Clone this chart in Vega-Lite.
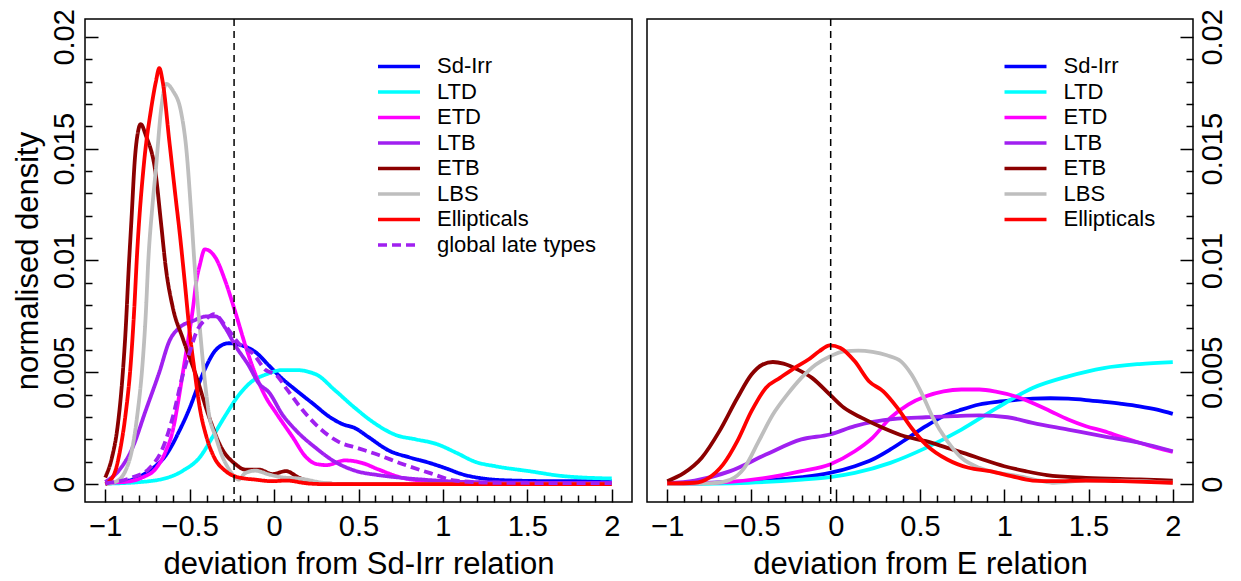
{
  "$schema": "https://vega.github.io/schema/vega-lite/v6.json",
  "padding": {"left": 11, "top": 7, "right": 0, "bottom": 0},
  "spacing": 13,
  "background": "white",
  "config": {
    "font": "Liberation Sans",
    "view": {"stroke": "black", "strokeWidth": 1.5},
    "axis": {
      "domain": false,
      "grid": false,
      "tickColor": "black",
      "tickWidth": 1.5,
      "labelFont": "Liberation Sans",
      "labelFontSize": 29,
      "labelColor": "black",
      "labelOverlap": false,
      "labelFlush": false,
      "labelBound": false,
      "titleFont": "Liberation Sans",
      "titleFontSize": 31,
      "titleFontWeight": "normal",
      "titleColor": "black"
    },
    "legend": {
      "orient": "none",
      "title": null,
      "padding": 0,
      "symbolType": "M-2.5,0H2.5",
      "symbolSize": 282,
      "symbolStrokeWidth": 3.5,
      "labelFont": "Liberation Sans",
      "labelFontSize": 22,
      "labelColor": "black",
      "labelOffset": 27,
      "labelLimit": 400,
      "rowPadding": 3.5
    }
  },
  "datasets": {
    "left": [
      {"series": "Sd-Irr", "dev": -1, "density": 0.00003},
      {"series": "Sd-Irr", "dev": -0.84, "density": 0.0002},
      {"series": "Sd-Irr", "dev": -0.74, "density": 0.0006},
      {"series": "Sd-Irr", "dev": -0.64, "density": 0.0013},
      {"series": "Sd-Irr", "dev": -0.56, "density": 0.0024},
      {"series": "Sd-Irr", "dev": -0.5, "density": 0.0034},
      {"series": "Sd-Irr", "dev": -0.44, "density": 0.0046},
      {"series": "Sd-Irr", "dev": -0.4, "density": 0.0053},
      {"series": "Sd-Irr", "dev": -0.345, "density": 0.006},
      {"series": "Sd-Irr", "dev": -0.27, "density": 0.0063},
      {"series": "Sd-Irr", "dev": -0.19, "density": 0.0062},
      {"series": "Sd-Irr", "dev": -0.11, "density": 0.0059},
      {"series": "Sd-Irr", "dev": -0.03, "density": 0.0053},
      {"series": "Sd-Irr", "dev": 0.05, "density": 0.0047},
      {"series": "Sd-Irr", "dev": 0.13, "density": 0.0042},
      {"series": "Sd-Irr", "dev": 0.23, "density": 0.0036},
      {"series": "Sd-Irr", "dev": 0.33, "density": 0.003},
      {"series": "Sd-Irr", "dev": 0.4, "density": 0.0027},
      {"series": "Sd-Irr", "dev": 0.48, "density": 0.0025},
      {"series": "Sd-Irr", "dev": 0.56, "density": 0.0021},
      {"series": "Sd-Irr", "dev": 0.68, "density": 0.0015},
      {"series": "Sd-Irr", "dev": 0.8, "density": 0.0012},
      {"series": "Sd-Irr", "dev": 0.92, "density": 0.00095},
      {"series": "Sd-Irr", "dev": 1.02, "density": 0.0007},
      {"series": "Sd-Irr", "dev": 1.11, "density": 0.00045},
      {"series": "Sd-Irr", "dev": 1.23, "density": 0.00026},
      {"series": "Sd-Irr", "dev": 1.41, "density": 0.00016},
      {"series": "Sd-Irr", "dev": 1.7, "density": 0.00013},
      {"series": "Sd-Irr", "dev": 2, "density": 0.00013},

      {"series": "LTD", "dev": -1, "density": 0.00002},
      {"series": "LTD", "dev": -0.74, "density": 0.00013},
      {"series": "LTD", "dev": -0.54, "density": 0.0006},
      {"series": "LTD", "dev": -0.44, "density": 0.0012},
      {"series": "LTD", "dev": -0.365, "density": 0.0021},
      {"series": "LTD", "dev": -0.286, "density": 0.0031},
      {"series": "LTD", "dev": -0.207, "density": 0.004},
      {"series": "LTD", "dev": -0.13, "density": 0.0046},
      {"series": "LTD", "dev": -0.05, "density": 0.0049},
      {"series": "LTD", "dev": 0.05, "density": 0.0051},
      {"series": "LTD", "dev": 0.13, "density": 0.0051},
      {"series": "LTD", "dev": 0.25, "density": 0.0049},
      {"series": "LTD", "dev": 0.36, "density": 0.0042},
      {"series": "LTD", "dev": 0.48, "density": 0.0034},
      {"series": "LTD", "dev": 0.6, "density": 0.0027},
      {"series": "LTD", "dev": 0.72, "density": 0.0022},
      {"series": "LTD", "dev": 0.84, "density": 0.002},
      {"series": "LTD", "dev": 0.96, "density": 0.0018},
      {"series": "LTD", "dev": 1.08, "density": 0.0014},
      {"series": "LTD", "dev": 1.19, "density": 0.001},
      {"series": "LTD", "dev": 1.31, "density": 0.0008},
      {"series": "LTD", "dev": 1.51, "density": 0.00058},
      {"series": "LTD", "dev": 1.71, "density": 0.00036},
      {"series": "LTD", "dev": 2, "density": 0.00025},

      {"series": "ETD", "dev": -1, "density": 0.00006},
      {"series": "ETD", "dev": -0.88, "density": 0.0001},
      {"series": "ETD", "dev": -0.78, "density": 0.0003},
      {"series": "ETD", "dev": -0.7, "density": 0.0007},
      {"series": "ETD", "dev": -0.64, "density": 0.0015},
      {"series": "ETD", "dev": -0.6, "density": 0.0024},
      {"series": "ETD", "dev": -0.57, "density": 0.0036},
      {"series": "ETD", "dev": -0.54, "density": 0.005},
      {"series": "ETD", "dev": -0.51, "density": 0.0064},
      {"series": "ETD", "dev": -0.48, "density": 0.0079},
      {"series": "ETD", "dev": -0.46, "density": 0.0091},
      {"series": "ETD", "dev": -0.44, "density": 0.0098},
      {"series": "ETD", "dev": -0.41, "density": 0.0105},
      {"series": "ETD", "dev": -0.345, "density": 0.0101},
      {"series": "ETD", "dev": -0.29, "density": 0.0091},
      {"series": "ETD", "dev": -0.23, "density": 0.0077},
      {"series": "ETD", "dev": -0.17, "density": 0.0062},
      {"series": "ETD", "dev": -0.11, "density": 0.0049},
      {"series": "ETD", "dev": -0.05, "density": 0.0039},
      {"series": "ETD", "dev": 0.01, "density": 0.0032},
      {"series": "ETD", "dev": 0.11, "density": 0.0021},
      {"series": "ETD", "dev": 0.19, "density": 0.0012},
      {"series": "ETD", "dev": 0.25, "density": 0.0009},
      {"series": "ETD", "dev": 0.31, "density": 0.00085},
      {"series": "ETD", "dev": 0.42, "density": 0.00106},
      {"series": "ETD", "dev": 0.52, "density": 0.00095},
      {"series": "ETD", "dev": 0.62, "density": 0.00065},
      {"series": "ETD", "dev": 0.76, "density": 0.00028},
      {"series": "ETD", "dev": 0.92, "density": 0.00013},
      {"series": "ETD", "dev": 1.11, "density": 0.00006},
      {"series": "ETD", "dev": 1.5, "density": 0.00003},
      {"series": "ETD", "dev": 2, "density": 0.00003},

      {"series": "LTB", "dev": -1, "density": 0.0001},
      {"series": "LTB", "dev": -0.92, "density": 0.0006},
      {"series": "LTB", "dev": -0.84, "density": 0.0016},
      {"series": "LTB", "dev": -0.76, "density": 0.0033},
      {"series": "LTB", "dev": -0.68, "density": 0.005},
      {"series": "LTB", "dev": -0.62, "density": 0.0064},
      {"series": "LTB", "dev": -0.56, "density": 0.007},
      {"series": "LTB", "dev": -0.48, "density": 0.0073},
      {"series": "LTB", "dev": -0.4, "density": 0.0075},
      {"series": "LTB", "dev": -0.345, "density": 0.0075},
      {"series": "LTB", "dev": -0.29, "density": 0.007},
      {"series": "LTB", "dev": -0.23, "density": 0.0062},
      {"series": "LTB", "dev": -0.15, "density": 0.0053},
      {"series": "LTB", "dev": -0.09, "density": 0.0045},
      {"series": "LTB", "dev": -0.03, "density": 0.0041},
      {"series": "LTB", "dev": 0.05, "density": 0.0031},
      {"series": "LTB", "dev": 0.13, "density": 0.0024},
      {"series": "LTB", "dev": 0.25, "density": 0.0016},
      {"series": "LTB", "dev": 0.36, "density": 0.001},
      {"series": "LTB", "dev": 0.48, "density": 0.0006},
      {"series": "LTB", "dev": 0.62, "density": 0.0004},
      {"series": "LTB", "dev": 0.76, "density": 0.00028},
      {"series": "LTB", "dev": 0.92, "density": 0.00018},
      {"series": "LTB", "dev": 1.11, "density": 0.0001},
      {"series": "LTB", "dev": 1.5, "density": 0.00006},
      {"series": "LTB", "dev": 2, "density": 0.00004},

      {"series": "ETB", "dev": -1, "density": 0.0003},
      {"series": "ETB", "dev": -0.96, "density": 0.0012},
      {"series": "ETB", "dev": -0.93, "density": 0.0024},
      {"series": "ETB", "dev": -0.9, "density": 0.0046},
      {"series": "ETB", "dev": -0.88, "density": 0.0068},
      {"series": "ETB", "dev": -0.86, "density": 0.0098},
      {"series": "ETB", "dev": -0.845, "density": 0.0118},
      {"series": "ETB", "dev": -0.825, "density": 0.0145},
      {"series": "ETB", "dev": -0.805, "density": 0.0158},
      {"series": "ETB", "dev": -0.79, "density": 0.0161},
      {"series": "ETB", "dev": -0.76, "density": 0.0156},
      {"series": "ETB", "dev": -0.7, "density": 0.0138},
      {"series": "ETB", "dev": -0.67, "density": 0.0117},
      {"series": "ETB", "dev": -0.64, "density": 0.0096},
      {"series": "ETB", "dev": -0.6, "density": 0.0079},
      {"series": "ETB", "dev": -0.54, "density": 0.0065},
      {"series": "ETB", "dev": -0.46, "density": 0.0048},
      {"series": "ETB", "dev": -0.385, "density": 0.003},
      {"series": "ETB", "dev": -0.31, "density": 0.0016},
      {"series": "ETB", "dev": -0.23, "density": 0.0009},
      {"series": "ETB", "dev": -0.17, "density": 0.00065},
      {"series": "ETB", "dev": -0.09, "density": 0.00065},
      {"series": "ETB", "dev": -0.01, "density": 0.00045},
      {"series": "ETB", "dev": 0.07, "density": 0.00058},
      {"series": "ETB", "dev": 0.15, "density": 0.00028},
      {"series": "ETB", "dev": 0.22, "density": 0.0001},
      {"series": "ETB", "dev": 0.3, "density": 0.00002},
      {"series": "ETB", "dev": 0.6, "density": 0},
      {"series": "ETB", "dev": 1.2, "density": 0},
      {"series": "ETB", "dev": 2, "density": 0},

      {"series": "LBS", "dev": -1, "density": 0},
      {"series": "LBS", "dev": -0.94, "density": 0.0001},
      {"series": "LBS", "dev": -0.88, "density": 0.0006},
      {"series": "LBS", "dev": -0.84, "density": 0.0016},
      {"series": "LBS", "dev": -0.81, "density": 0.0031},
      {"series": "LBS", "dev": -0.78, "density": 0.0053},
      {"series": "LBS", "dev": -0.76, "density": 0.0076},
      {"series": "LBS", "dev": -0.745, "density": 0.01},
      {"series": "LBS", "dev": -0.72, "density": 0.0125},
      {"series": "LBS", "dev": -0.7, "density": 0.0141},
      {"series": "LBS", "dev": -0.67, "density": 0.0167},
      {"series": "LBS", "dev": -0.64, "density": 0.0179},
      {"series": "LBS", "dev": -0.6, "density": 0.0176},
      {"series": "LBS", "dev": -0.55, "density": 0.0166},
      {"series": "LBS", "dev": -0.52, "density": 0.015},
      {"series": "LBS", "dev": -0.49, "density": 0.012},
      {"series": "LBS", "dev": -0.47, "density": 0.0097},
      {"series": "LBS", "dev": -0.44, "density": 0.007},
      {"series": "LBS", "dev": -0.41, "density": 0.0046},
      {"series": "LBS", "dev": -0.385, "density": 0.0031},
      {"series": "LBS", "dev": -0.345, "density": 0.0021},
      {"series": "LBS", "dev": -0.31, "density": 0.0013},
      {"series": "LBS", "dev": -0.27, "density": 0.0007},
      {"series": "LBS", "dev": -0.23, "density": 0.0003},
      {"series": "LBS", "dev": -0.21, "density": 0.0002},
      {"series": "LBS", "dev": -0.17, "density": 0.0005},
      {"series": "LBS", "dev": -0.11, "density": 0.0006},
      {"series": "LBS", "dev": -0.03, "density": 0.00043},
      {"series": "LBS", "dev": 0.05, "density": 0.0003},
      {"series": "LBS", "dev": 0.15, "density": 0.00025},
      {"series": "LBS", "dev": 0.29, "density": 0.00006},
      {"series": "LBS", "dev": 0.4, "density": 0},
      {"series": "LBS", "dev": 1.2, "density": 0},
      {"series": "LBS", "dev": 2, "density": 0},

      {"series": "Ellipticals", "dev": -1, "density": 0},
      {"series": "Ellipticals", "dev": -0.975, "density": 0.00013},
      {"series": "Ellipticals", "dev": -0.94, "density": 0.0006},
      {"series": "Ellipticals", "dev": -0.91, "density": 0.0016},
      {"series": "Ellipticals", "dev": -0.88, "density": 0.0031},
      {"series": "Ellipticals", "dev": -0.85, "density": 0.0053},
      {"series": "Ellipticals", "dev": -0.83, "density": 0.0076},
      {"series": "Ellipticals", "dev": -0.81, "density": 0.0105},
      {"series": "Ellipticals", "dev": -0.77, "density": 0.0144},
      {"series": "Ellipticals", "dev": -0.73, "density": 0.0167},
      {"series": "Ellipticals", "dev": -0.7, "density": 0.018},
      {"series": "Ellipticals", "dev": -0.68, "density": 0.0186},
      {"series": "Ellipticals", "dev": -0.66, "density": 0.018},
      {"series": "Ellipticals", "dev": -0.62, "density": 0.0153},
      {"series": "Ellipticals", "dev": -0.58, "density": 0.0126},
      {"series": "Ellipticals", "dev": -0.56, "density": 0.0113},
      {"series": "Ellipticals", "dev": -0.53, "density": 0.0091},
      {"series": "Ellipticals", "dev": -0.5, "density": 0.0068},
      {"series": "Ellipticals", "dev": -0.47, "density": 0.005},
      {"series": "Ellipticals", "dev": -0.44, "density": 0.0034},
      {"series": "Ellipticals", "dev": -0.4, "density": 0.0021},
      {"series": "Ellipticals", "dev": -0.355, "density": 0.0012},
      {"series": "Ellipticals", "dev": -0.29, "density": 0.0006},
      {"series": "Ellipticals", "dev": -0.21, "density": 0.0003},
      {"series": "Ellipticals", "dev": -0.11, "density": 0.0002},
      {"series": "Ellipticals", "dev": -0.01, "density": 0.00013},
      {"series": "Ellipticals", "dev": 0.07, "density": 0.00016},
      {"series": "Ellipticals", "dev": 0.2, "density": 0.00003},
      {"series": "Ellipticals", "dev": 0.3, "density": 0},
      {"series": "Ellipticals", "dev": 1.2, "density": 0},
      {"series": "Ellipticals", "dev": 2, "density": 0},

      {"series": "global late types", "dev": -1, "density": 0.00003},
      {"series": "global late types", "dev": -0.84, "density": 0.0003},
      {"series": "global late types", "dev": -0.74, "density": 0.0007},
      {"series": "global late types", "dev": -0.66, "density": 0.0016},
      {"series": "global late types", "dev": -0.6, "density": 0.003},
      {"series": "global late types", "dev": -0.54, "density": 0.0049},
      {"series": "global late types", "dev": -0.5, "density": 0.0059},
      {"series": "global late types", "dev": -0.46, "density": 0.0068},
      {"series": "global late types", "dev": -0.4, "density": 0.0074},
      {"series": "global late types", "dev": -0.355, "density": 0.0076},
      {"series": "global late types", "dev": -0.29, "density": 0.0071},
      {"series": "global late types", "dev": -0.21, "density": 0.0063},
      {"series": "global late types", "dev": -0.12, "density": 0.0058},
      {"series": "global late types", "dev": -0.05, "density": 0.0051},
      {"series": "global late types", "dev": 0.01, "density": 0.0049},
      {"series": "global late types", "dev": 0.08, "density": 0.0042},
      {"series": "global late types", "dev": 0.17, "density": 0.0033},
      {"series": "global late types", "dev": 0.27, "density": 0.0025},
      {"series": "global late types", "dev": 0.38, "density": 0.0019},
      {"series": "global late types", "dev": 0.5, "density": 0.0016},
      {"series": "global late types", "dev": 0.62, "density": 0.0013},
      {"series": "global late types", "dev": 0.76, "density": 0.0009},
      {"series": "global late types", "dev": 0.92, "density": 0.0005},
      {"series": "global late types", "dev": 1.08, "density": 0.00015},
      {"series": "global late types", "dev": 1.31, "density": 0.00006},
      {"series": "global late types", "dev": 2, "density": 0.00004}
    ],
    "right": [
      {"series": "Sd-Irr", "dev": -1, "density": 0.00001},
      {"series": "Sd-Irr", "dev": -0.52, "density": 0.00013},
      {"series": "Sd-Irr", "dev": -0.2, "density": 0.00031},
      {"series": "Sd-Irr", "dev": -0.035, "density": 0.0005},
      {"series": "Sd-Irr", "dev": 0.113, "density": 0.0008},
      {"series": "Sd-Irr", "dev": 0.218, "density": 0.0011},
      {"series": "Sd-Irr", "dev": 0.324, "density": 0.00155},
      {"series": "Sd-Irr", "dev": 0.43, "density": 0.00207},
      {"series": "Sd-Irr", "dev": 0.535, "density": 0.00259},
      {"series": "Sd-Irr", "dev": 0.64, "density": 0.00304},
      {"series": "Sd-Irr", "dev": 0.746, "density": 0.00333},
      {"series": "Sd-Irr", "dev": 0.852, "density": 0.00356},
      {"series": "Sd-Irr", "dev": 0.957, "density": 0.00368},
      {"series": "Sd-Irr", "dev": 1.063, "density": 0.00376},
      {"series": "Sd-Irr", "dev": 1.168, "density": 0.00382},
      {"series": "Sd-Irr", "dev": 1.274, "density": 0.00384},
      {"series": "Sd-Irr", "dev": 1.379, "density": 0.00382},
      {"series": "Sd-Irr", "dev": 1.485, "density": 0.00376},
      {"series": "Sd-Irr", "dev": 1.59, "density": 0.00368},
      {"series": "Sd-Irr", "dev": 1.696, "density": 0.00359},
      {"series": "Sd-Irr", "dev": 1.802, "density": 0.00348},
      {"series": "Sd-Irr", "dev": 1.907, "density": 0.00333},
      {"series": "Sd-Irr", "dev": 2, "density": 0.00314},

      {"series": "LTD", "dev": -1, "density": 0},
      {"series": "LTD", "dev": -0.52, "density": 0.00006},
      {"series": "LTD", "dev": -0.2, "density": 0.0002},
      {"series": "LTD", "dev": -0.035, "density": 0.00031},
      {"series": "LTD", "dev": 0.113, "density": 0.0005},
      {"series": "LTD", "dev": 0.324, "density": 0.00095},
      {"series": "LTD", "dev": 0.535, "density": 0.00162},
      {"series": "LTD", "dev": 0.746, "density": 0.00244},
      {"series": "LTD", "dev": 0.957, "density": 0.00341},
      {"series": "LTD", "dev": 1.168, "density": 0.0043},
      {"series": "LTD", "dev": 1.379, "density": 0.00482},
      {"series": "LTD", "dev": 1.59, "density": 0.00519},
      {"series": "LTD", "dev": 1.802, "density": 0.00537},
      {"series": "LTD", "dev": 2, "density": 0.00546},

      {"series": "ETD", "dev": -1, "density": 0},
      {"series": "ETD", "dev": -0.626, "density": 0.0001},
      {"series": "ETD", "dev": -0.415, "density": 0.00028},
      {"series": "ETD", "dev": -0.204, "density": 0.00058},
      {"series": "ETD", "dev": -0.035, "density": 0.00088},
      {"series": "ETD", "dev": 0.113, "density": 0.00147},
      {"series": "ETD", "dev": 0.218, "density": 0.00207},
      {"series": "ETD", "dev": 0.324, "density": 0.00296},
      {"series": "ETD", "dev": 0.43, "density": 0.00356},
      {"series": "ETD", "dev": 0.535, "density": 0.00393},
      {"series": "ETD", "dev": 0.64, "density": 0.00415},
      {"series": "ETD", "dev": 0.746, "density": 0.00423},
      {"series": "ETD", "dev": 0.852, "density": 0.00423},
      {"series": "ETD", "dev": 0.957, "density": 0.00412},
      {"series": "ETD", "dev": 1.063, "density": 0.00393},
      {"series": "ETD", "dev": 1.168, "density": 0.00363},
      {"series": "ETD", "dev": 1.274, "density": 0.00326},
      {"series": "ETD", "dev": 1.379, "density": 0.00289},
      {"series": "ETD", "dev": 1.485, "density": 0.00259},
      {"series": "ETD", "dev": 1.59, "density": 0.00237},
      {"series": "ETD", "dev": 1.696, "density": 0.0021},
      {"series": "ETD", "dev": 1.802, "density": 0.00185},
      {"series": "ETD", "dev": 1.907, "density": 0.00162},
      {"series": "ETD", "dev": 2, "density": 0.00144},

      {"series": "LTB", "dev": -1, "density": 0.00004},
      {"series": "LTB", "dev": -0.837, "density": 0.00016},
      {"series": "LTB", "dev": -0.626, "density": 0.00058},
      {"series": "LTB", "dev": -0.415, "density": 0.00132},
      {"series": "LTB", "dev": -0.204, "density": 0.002},
      {"series": "LTB", "dev": -0.035, "density": 0.00222},
      {"series": "LTB", "dev": 0.113, "density": 0.00259},
      {"series": "LTB", "dev": 0.218, "density": 0.00278},
      {"series": "LTB", "dev": 0.366, "density": 0.00293},
      {"series": "LTB", "dev": 0.535, "density": 0.00299},
      {"series": "LTB", "dev": 0.704, "density": 0.00304},
      {"series": "LTB", "dev": 0.852, "density": 0.00307},
      {"series": "LTB", "dev": 1.02, "density": 0.00299},
      {"series": "LTB", "dev": 1.168, "density": 0.00274},
      {"series": "LTB", "dev": 1.379, "density": 0.00244},
      {"series": "LTB", "dev": 1.59, "density": 0.00214},
      {"series": "LTB", "dev": 1.802, "density": 0.00185},
      {"series": "LTB", "dev": 2, "density": 0.00147},

      {"series": "ETB", "dev": -1, "density": 0.00013},
      {"series": "ETB", "dev": -0.9, "density": 0.0005},
      {"series": "ETB", "dev": -0.795, "density": 0.00118},
      {"series": "ETB", "dev": -0.69, "density": 0.00237},
      {"series": "ETB", "dev": -0.584, "density": 0.00385},
      {"series": "ETB", "dev": -0.5, "density": 0.0049},
      {"series": "ETB", "dev": -0.436, "density": 0.00534},
      {"series": "ETB", "dev": -0.373, "density": 0.00546},
      {"series": "ETB", "dev": -0.31, "density": 0.00539},
      {"series": "ETB", "dev": -0.225, "density": 0.00512},
      {"series": "ETB", "dev": -0.141, "density": 0.00475},
      {"series": "ETB", "dev": -0.035, "density": 0.004},
      {"series": "ETB", "dev": 0.049, "density": 0.00341},
      {"series": "ETB", "dev": 0.155, "density": 0.00296},
      {"series": "ETB", "dev": 0.282, "density": 0.00251},
      {"series": "ETB", "dev": 0.408, "density": 0.00214},
      {"series": "ETB", "dev": 0.535, "density": 0.00192},
      {"series": "ETB", "dev": 0.662, "density": 0.00162},
      {"series": "ETB", "dev": 0.788, "density": 0.00132},
      {"series": "ETB", "dev": 0.873, "density": 0.0011},
      {"series": "ETB", "dev": 1, "density": 0.0008},
      {"series": "ETB", "dev": 1.126, "density": 0.00058},
      {"series": "ETB", "dev": 1.253, "density": 0.0004},
      {"series": "ETB", "dev": 1.485, "density": 0.00028},
      {"series": "ETB", "dev": 1.802, "density": 0.00021},
      {"series": "ETB", "dev": 2, "density": 0.00016},

      {"series": "LBS", "dev": -1, "density": 0},
      {"series": "LBS", "dev": -0.731, "density": 0.00004},
      {"series": "LBS", "dev": -0.626, "density": 0.0002},
      {"series": "LBS", "dev": -0.542, "density": 0.00073},
      {"series": "LBS", "dev": -0.457, "density": 0.00192},
      {"series": "LBS", "dev": -0.373, "density": 0.00311},
      {"series": "LBS", "dev": -0.288, "density": 0.004},
      {"series": "LBS", "dev": -0.204, "density": 0.00475},
      {"series": "LBS", "dev": -0.12, "density": 0.00534},
      {"series": "LBS", "dev": -0.035, "density": 0.00571},
      {"series": "LBS", "dev": 0.049, "density": 0.00594},
      {"series": "LBS", "dev": 0.134, "density": 0.00597},
      {"series": "LBS", "dev": 0.218, "density": 0.00591},
      {"series": "LBS", "dev": 0.303, "density": 0.00576},
      {"series": "LBS", "dev": 0.387, "density": 0.00549},
      {"series": "LBS", "dev": 0.45, "density": 0.0049},
      {"series": "LBS", "dev": 0.514, "density": 0.004},
      {"series": "LBS", "dev": 0.577, "density": 0.00296},
      {"series": "LBS", "dev": 0.662, "density": 0.00192},
      {"series": "LBS", "dev": 0.746, "density": 0.00118},
      {"series": "LBS", "dev": 0.852, "density": 0.00073},
      {"series": "LBS", "dev": 0.957, "density": 0.00051},
      {"series": "LBS", "dev": 1.084, "density": 0.00036},
      {"series": "LBS", "dev": 1.21, "density": 0.00016},
      {"series": "LBS", "dev": 1.295, "density": 0.00006},
      {"series": "LBS", "dev": 1.485, "density": 0.00016},
      {"series": "LBS", "dev": 1.696, "density": 0.00016},
      {"series": "LBS", "dev": 2, "density": 0.00006},

      {"series": "Ellipticals", "dev": -1, "density": 0.00003},
      {"series": "Ellipticals", "dev": -0.837, "density": 0.00006},
      {"series": "Ellipticals", "dev": -0.753, "density": 0.00028},
      {"series": "Ellipticals", "dev": -0.668, "density": 0.00088},
      {"series": "Ellipticals", "dev": -0.584, "density": 0.00192},
      {"series": "Ellipticals", "dev": -0.5, "density": 0.00326},
      {"series": "Ellipticals", "dev": -0.415, "density": 0.0043},
      {"series": "Ellipticals", "dev": -0.331, "density": 0.00475},
      {"series": "Ellipticals", "dev": -0.246, "density": 0.00519},
      {"series": "Ellipticals", "dev": -0.162, "density": 0.00557},
      {"series": "Ellipticals", "dev": -0.098, "density": 0.00594},
      {"series": "Ellipticals", "dev": -0.035, "density": 0.0062},
      {"series": "Ellipticals", "dev": 0.028, "density": 0.00609},
      {"series": "Ellipticals", "dev": 0.113, "density": 0.00549},
      {"series": "Ellipticals", "dev": 0.197, "density": 0.0046},
      {"series": "Ellipticals", "dev": 0.282, "density": 0.00415},
      {"series": "Ellipticals", "dev": 0.366, "density": 0.00341},
      {"series": "Ellipticals", "dev": 0.45, "density": 0.00251},
      {"series": "Ellipticals", "dev": 0.535, "density": 0.00177},
      {"series": "Ellipticals", "dev": 0.662, "density": 0.0011},
      {"series": "Ellipticals", "dev": 0.788, "density": 0.00073},
      {"series": "Ellipticals", "dev": 0.915, "density": 0.00058},
      {"series": "Ellipticals", "dev": 1.042, "density": 0.00036},
      {"series": "Ellipticals", "dev": 1.168, "density": 0.00016},
      {"series": "Ellipticals", "dev": 1.295, "density": 0.00013},
      {"series": "Ellipticals", "dev": 1.485, "density": 0.00016},
      {"series": "Ellipticals", "dev": 1.696, "density": 0.00013},
      {"series": "Ellipticals", "dev": 2, "density": 0.00006}
    ],
    "leftRef": [{"dev": -0.237}],
    "rightRef": [{"dev": -0.03}]
  },
  "hconcat": [
    {
      "width": 547,
      "height": 483,
      "encoding": {
        "x": {
          "field": "dev",
          "type": "quantitative",
          "scale": {"domain": [-1.12, 2.12], "nice": false, "zero": false},
          "axis": {
            "title": "deviation from Sd-Irr relation",
            "values": [-1, -0.9, -0.8, -0.7, -0.6, -0.5, -0.4, -0.3, -0.2, -0.1, 0, 0.1, 0.2, 0.3, 0.4, 0.5, 0.6, 0.7, 0.8, 0.9, 1, 1.1, 1.2, 1.3, 1.4, 1.5, 1.6, 1.7, 1.8, 1.9, 2],
            "format": "~g",
            "labelExpr": "abs(datum.value * 2 - round(datum.value * 2)) < 0.000001 ? datum.label : ''",
            "tickSize": {"condition": {"test": "abs(datum.value * 2 - round(datum.value * 2)) < 0.000001", "value": -13}, "value": -7},
            "labelPadding": 46,
            "labelAlign": "center",
            "labelBaseline": "alphabetic",
            "titleX": 273.5,
            "titleY": 71,
            "titleAlign": "center",
            "titleBaseline": "alphabetic"
          }
        }
      },
      "layer": [
        {
          "data": {"name": "left"},
          "mark": {"type": "line", "strokeWidth": 3.8, "interpolate": "monotone"},
          "encoding": {
            "y": {
              "field": "density",
              "type": "quantitative",
              "scale": {"domain": [-0.0008, 0.0208], "nice": false, "zero": false},
              "axis": {
                "title": "normalised density",
                "values": [0, 0.001, 0.002, 0.003, 0.004, 0.005, 0.006, 0.007, 0.008, 0.009, 0.01, 0.011, 0.012, 0.013, 0.014, 0.015, 0.016, 0.017, 0.018, 0.019, 0.02],
                "format": "~g",
                "labelExpr": "abs(datum.value * 200 - round(datum.value * 200)) < 0.000001 ? datum.label : ''",
                "tickSize": {"condition": {"test": "abs(datum.value * 200 - round(datum.value * 200)) < 0.000001", "value": -13}, "value": -7},
                "labelAngle": 270,
                "labelAlign": "center",
                "labelBaseline": "alphabetic",
                "labelPadding": 25,
                "titleAngle": 270,
                "titleX": -48,
                "titleY": 241.5,
                "titleAlign": "center",
                "titleBaseline": "alphabetic"
              }
            },
            "color": {
              "field": "series",
              "type": "nominal",
              "scale": {
                "domain": ["Sd-Irr", "LTD", "ETD", "LTB", "ETB", "LBS", "Ellipticals", "global late types"],
                "range": ["#0000FF", "#00FFFF", "#FF00FF", "#A020F0", "#8B0000", "#BEBEBE", "#FF0000", "#A020F0"]
              },
              "legend": {"legendX": 303, "legendY": 36.4}
            },
            "strokeDash": {
              "field": "series",
              "type": "nominal",
              "scale": {
                "domain": ["Sd-Irr", "LTD", "ETD", "LTB", "ETB", "LBS", "Ellipticals", "global late types"],
                "range": [[1, 0], [1, 0], [1, 0], [1, 0], [1, 0], [1, 0], [1, 0], [9, 5]]
              },
              "legend": {"legendX": 303, "legendY": 36.4}
            }
          }
        },
        {
          "data": {"name": "leftRef"},
          "mark": {"type": "rule", "color": "black", "strokeWidth": 1.5, "strokeDash": [7, 5]},
          "encoding": {}
        }
      ]
    },
    {
      "width": 546,
      "height": 483,
      "encoding": {
        "x": {
          "field": "dev",
          "type": "quantitative",
          "scale": {"domain": [-1.12, 2.12], "nice": false, "zero": false},
          "axis": {
            "title": "deviation from E relation",
            "values": [-1, -0.9, -0.8, -0.7, -0.6, -0.5, -0.4, -0.3, -0.2, -0.1, 0, 0.1, 0.2, 0.3, 0.4, 0.5, 0.6, 0.7, 0.8, 0.9, 1, 1.1, 1.2, 1.3, 1.4, 1.5, 1.6, 1.7, 1.8, 1.9, 2],
            "format": "~g",
            "labelExpr": "abs(datum.value * 2 - round(datum.value * 2)) < 0.000001 ? datum.label : ''",
            "tickSize": {"condition": {"test": "abs(datum.value * 2 - round(datum.value * 2)) < 0.000001", "value": -13}, "value": -7},
            "labelPadding": 46,
            "labelAlign": "center",
            "labelBaseline": "alphabetic",
            "titleX": 273,
            "titleY": 71,
            "titleAlign": "center",
            "titleBaseline": "alphabetic"
          }
        }
      },
      "layer": [
        {
          "data": {"name": "right"},
          "mark": {"type": "line", "strokeWidth": 3.8, "interpolate": "monotone"},
          "encoding": {
            "y": {
              "field": "density",
              "type": "quantitative",
              "scale": {"domain": [-0.0008, 0.0208], "nice": false, "zero": false},
              "axis": {
                "orient": "right",
                "title": null,
                "values": [0, 0.001, 0.002, 0.003, 0.004, 0.005, 0.006, 0.007, 0.008, 0.009, 0.01, 0.011, 0.012, 0.013, 0.014, 0.015, 0.016, 0.017, 0.018, 0.019, 0.02],
                "format": "~g",
                "labelExpr": "abs(datum.value * 200 - round(datum.value * 200)) < 0.000001 ? datum.label : ''",
                "tickSize": {"condition": {"test": "abs(datum.value * 200 - round(datum.value * 200)) < 0.000001", "value": -13}, "value": -7},
                "labelAngle": 270,
                "labelAlign": "center",
                "labelBaseline": "alphabetic",
                "labelPadding": 41
              }
            },
            "color": {
              "field": "series",
              "type": "nominal",
              "scale": {
                "domain": ["Sd-Irr", "LTD", "ETD", "LTB", "ETB", "LBS", "Ellipticals"],
                "range": ["#0000FF", "#00FFFF", "#FF00FF", "#A020F0", "#8B0000", "#BEBEBE", "#FF0000"]
              },
              "legend": {"legendX": 367.5, "legendY": 36.4}
            }
          }
        },
        {
          "data": {"name": "rightRef"},
          "mark": {"type": "rule", "color": "black", "strokeWidth": 1.5, "strokeDash": [7, 5]},
          "encoding": {}
        }
      ]
    }
  ],
  "resolve": {
    "scale": {"x": "independent", "y": "independent", "color": "independent", "strokeDash": "independent"},
    "axis": {"x": "independent", "y": "independent"},
    "legend": {"color": "independent", "strokeDash": "independent"}
  }
}
